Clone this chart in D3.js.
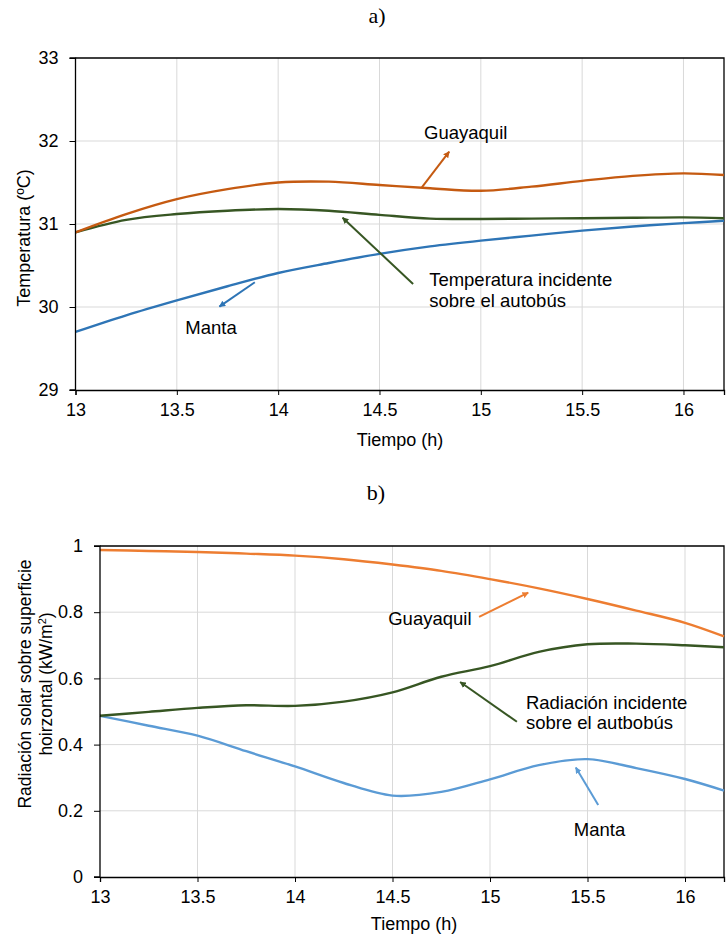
<!DOCTYPE html>
<html><head><meta charset="utf-8">
<script src="https://cdn.jsdelivr.net/npm/d3@7"></script>
<style>body{margin:0;background:#fff}svg{display:block}</style>
</head><body><svg id="c" width="728" height="939" font-family="Arial, 'Liberation Sans', sans-serif"></svg>
<script>
// ---------- data ----------
const times = [13,13.25,13.5,13.75,14,14.25,14.5,14.75,15,15.25,15.5,15.75,16,16.2];
const xTicks = [13,13.5,14,14.5,15,15.5,16];
const xTickLabels = ["13","13.5","14","14.5","15","15.5","16"];

// a) temperature (ºC)
const tempGuayaquil = [30.9,31.12,31.30,31.42,31.50,31.51,31.47,31.43,31.40,31.45,31.52,31.58,31.61,31.59];
const tempIncidente = [30.9,31.05,31.12,31.16,31.18,31.16,31.11,31.065,31.06,31.065,31.07,31.075,31.08,31.07];
const tempManta     = [29.70,29.90,30.08,30.25,30.41,30.53,30.64,30.73,30.80,30.86,30.92,30.97,31.01,31.04];
const tempTicks = [29,30,31,32,33];
const tempTickLabels = ["29","30","31","32","33"];

// b) solar radiation (kW/m²)
const radGuayaquil = [0.988,0.985,0.982,0.977,0.971,0.960,0.944,0.925,0.900,0.872,0.840,0.805,0.768,0.727];
const radIncidente = [0.487,0.499,0.511,0.519,0.517,0.530,0.558,0.605,0.637,0.680,0.703,0.705,0.700,0.694];
const radManta     = [0.487,0.457,0.427,0.380,0.334,0.284,0.246,0.257,0.295,0.338,0.356,0.329,0.296,0.261];
const radTicks = [0,0.2,0.4,0.6,0.8,1];
const radTickLabels = ["0","0.2","0.4","0.6","0.8","1"];

// annotations (data coordinates)
const annotA = [
  {lines:["Guayaquil"], tx:14.72, ty:32.02, ax1:14.709, ay1:31.442, ax2:14.844, ay2:31.871, color:"#C55A11"},
  {lines:["Temperatura incidente","sobre el autobús"], tx:14.745, ty:30.253, ax1:14.666, ay1:30.277, ax2:14.318, ay2:31.076, color:"#375623"},
  {lines:["Manta"], tx:13.542, ty:29.675, ax1:13.885, ay1:30.298, ax2:13.710, ay2:30.004, color:"#2E75B6"}
];
const annotB = [
  {lines:["Guayaquil"], tx:14.478, ty:0.761, ax1:14.944, ay1:0.786, ax2:15.196, ay2:0.859, color:"#ED7D31"},
  {lines:["Radiación incidente","sobre el autbobús"], tx:15.184, ty:0.5076, ax1:15.138, ay1:0.469, ax2:14.847, ay2:0.589, color:"#375623"},
  {lines:["Manta"], tx:15.43, ty:0.124, ax1:15.555, ay1:0.2175, ax2:15.440, ay2:0.331, color:"#5B9BD5"}
];

const SANS = "Arial, 'Liberation Sans', sans-serif";
const SERIF = "'Times New Roman', 'Liberation Serif', serif";
const svg = d3.select("#c");
const defs = svg.append("defs");
function marker(id,color){
  defs.append("marker").attr("id",id).attr("viewBox","0 0 10 10").attr("refX",9).attr("refY",5)
    .attr("markerWidth",3.2).attr("markerHeight",3.2).attr("orient","auto")
    .append("path").attr("d","M0,0L10,5L0,10z").attr("fill",color);
}

function panel(cfg){
  const x = d3.scaleLinear().domain([13,16.2]).range([cfg.left,cfg.right]);
  const y = d3.scaleLinear().domain(cfg.yDomain).range([cfg.bottom,cfg.top]);
  const g = svg.append("g");
  // grid
  g.selectAll(".gx").data(xTicks.filter(d=>d>13)).join("line")
    .attr("x1",d=>x(d)).attr("x2",d=>x(d)).attr("y1",cfg.top).attr("y2",cfg.bottom)
    .attr("stroke","#d9d9d9").attr("stroke-width",1);
  g.selectAll(".gy").data(cfg.yTicks.slice(1,-1)).join("line")
    .attr("x1",cfg.left).attr("x2",cfg.right).attr("y1",d=>y(d)).attr("y2",d=>y(d))
    .attr("stroke","#d9d9d9").attr("stroke-width",1);
  // border top/right
  g.append("path").attr("d",`M${cfg.left},${cfg.top}H${cfg.right}V${cfg.bottom}`)
    .attr("fill","none").attr("stroke","#000").attr("stroke-width",1.3);
  // series
  const line = d3.line().x((d,i)=>x(times[i])).y(d=>y(d)).curve(d3.curveCatmullRom.alpha(0.5));
  cfg.series.forEach(s=>{
    g.append("path").attr("d",line(s.values)).attr("fill","none")
      .attr("stroke",s.color).attr("stroke-width",2.4);
  });
  // axes
  const xa = g.append("g").attr("transform",`translate(0,${cfg.bottom})`)
    .call(d3.axisBottom(x).tickValues(xTicks).tickFormat((d,i)=>xTickLabels[i]).tickSize(5).tickPadding(8));
  const ya = g.append("g").attr("transform",`translate(${cfg.left},0)`)
    .call(d3.axisLeft(y).tickValues(cfg.yTicks).tickFormat((d,i)=>cfg.yTickLabels[i]).tickSize(6).tickPadding(cfg.yPad));
  [xa,ya].forEach(a=>{
    a.attr("font-family",SANS).attr("font-size",18);
    a.select(".domain").attr("stroke","#000").attr("stroke-width",1.3);
    a.selectAll(".tick line").attr("stroke","#000").attr("stroke-width",1);
    a.selectAll("text").attr("fill","#000");
  });
  ya.select(".domain").attr("d",`M-6,${cfg.bottom}H0V${cfg.top}H-6`);
  // annotations
  cfg.annots.forEach((a,k)=>{
    const id = cfg.id+"m"+k;
    marker(id,a.color);
    g.append("line").attr("x1",x(a.ax1)).attr("y1",y(a.ay1)).attr("x2",x(a.ax2)).attr("y2",y(a.ay2))
      .attr("stroke",a.color).attr("stroke-width",2).attr("marker-end",`url(#${id})`);
    const t = g.append("text").attr("x",x(a.tx)).attr("y",y(a.ty)).attr("font-size",18.5).attr("fill","#000");
    a.lines.forEach((l,j)=>t.append("tspan").attr("x",x(a.tx)).attr("dy",j?20.5:0).text(l));
  });
  return {x,y,g};
}

// ---- panel a ----
svg.append("text").attr("x",377).attr("y",23).attr("text-anchor","middle")
  .attr("font-family",SERIF).attr("font-size",22).text("a)");
panel({id:"a",left:75.5,right:724,top:58,bottom:390,yDomain:[29,33],yTicks:tempTicks,yTickLabels:tempTickLabels,yPad:11,
  series:[{values:tempManta,color:"#2E75B6"},{values:tempIncidente,color:"#375623"},{values:tempGuayaquil,color:"#C55A11"}],
  annots:annotA});
svg.append("text").attr("transform","translate(30,238) rotate(-90)").attr("text-anchor","middle")
  .attr("font-size",18).text("Temperatura (ºC)");
svg.append("text").attr("x",400).attr("y",446).attr("text-anchor","middle").attr("font-size",18).text("Tiempo (h)");

// ---- panel b ----
svg.append("text").attr("x",376).attr("y",500).attr("text-anchor","middle")
  .attr("font-family",SERIF).attr("font-size",22).text("b)");
panel({id:"b",left:100,right:724,top:546,bottom:877,yDomain:[0,1],yTicks:radTicks,yTickLabels:radTickLabels,yPad:11,
  series:[{values:radManta,color:"#5B9BD5"},{values:radIncidente,color:"#375623"},{values:radGuayaquil,color:"#ED7D31"}],
  annots:annotB});
const yt = svg.append("text").attr("transform","translate(0,684) rotate(-90)").attr("text-anchor","middle").attr("font-size",17.5);
yt.append("tspan").attr("x",0).attr("y",31).text("Radiación solar sobre superficie");
const t2 = yt.append("tspan").attr("x",0).attr("y",52).text("hoirzontal (kW/m");
t2.append("tspan").attr("font-size",11).attr("dy",-6).text("2");
t2.append("tspan").attr("dy",6).text(")");
svg.append("text").attr("x",414).attr("y",930).attr("text-anchor","middle").attr("font-size",18).text("Tiempo (h)");
</script></body></html>
